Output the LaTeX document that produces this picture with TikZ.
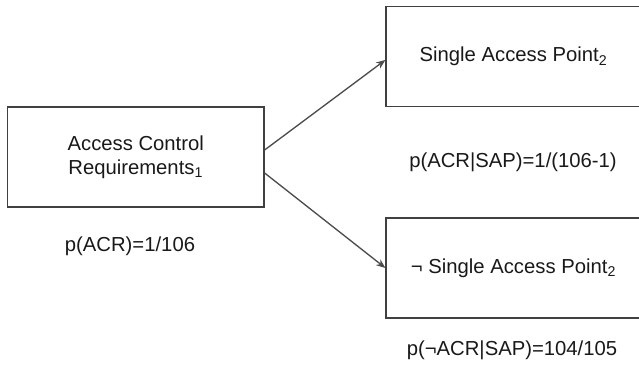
\documentclass[tikz,border=0pt]{standalone}
\usepackage{fontspec}
\setmainfont{Liberation Sans}
\usetikzlibrary{arrows.meta}
\begin{document}
\begin{tikzpicture}[x=0.75pt,y=-0.75pt,font=\fontsize{15.2}{18}\selectfont,
	box/.style={draw=black!75,line width=0.9pt,inner sep=0pt,align=center,text=black!90},
	lbl/.style={inner sep=0pt,text=black!90}]
			\useasboundingbox (0,0) rectangle (639,373);
			\clip (0,0) rectangle (639,373);
			\node[box,minimum width=192.4pt,minimum height=75pt] (acr) at(135.75,157){Access Control\\Requirements\textsubscript{1}};
			\node[box,minimum width=191.25pt,minimum height=74.5pt] (sap) at(513.5,56.5){Single Access Point\textsubscript{2}};
			\node[box,minimum width=191.25pt,minimum height=75pt] (nsap) at(513.5,268){¬ Single Access Point\textsubscript{2}};
			\node[lbl] (pacr) at(130,246){p(ACR)=1/106};
			\node[lbl] (psap) at(513,162){p(ACR|SAP)=1/(106-1)};
			\node[lbl] (pnsap) at(512,350){p(¬ACR|SAP)=104/105};
			\draw[-{Stealth[length=7pt,width=5.5pt]},draw=black!70,line width=1pt]([yshift=5.25pt]acr.east)--([yshift=-2.6pt]sap.west);
			\draw[-{Stealth[length=7pt,width=5.5pt]},draw=black!70,line width=1pt]([yshift=-12pt]acr.east)--(nsap.west);
			\end{tikzpicture}
\end{document}
